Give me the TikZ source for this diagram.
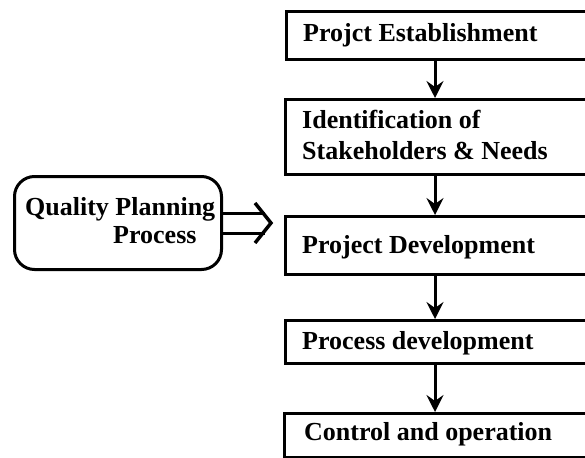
\documentclass[tikz,border=0pt]{standalone}
\usepackage{fontspec}
\setmainfont{Liberation Serif}
\usetikzlibrary{arrows.meta}
\begin{document}
\begin{tikzpicture}[x=1pt,y=-1pt,
  stepbox/.style={draw, line width=3pt, anchor=north west, inner sep=0pt, minimum width=340pt},
  txt/.style={anchor=base west, inner sep=0pt, font=\fontsize{26}{31}\selectfont\bfseries},
  arr/.style={line width=3pt, -{Stealth[length=17pt,width=17pt,inset=6pt]}},
  dl/.style={line width=3pt}]
\useasboundingbox (0,0) rectangle (585,457);
\clip (0,0) rectangle (585,457);
% left rounded box
\node[draw, line width=3pt, rounded corners=20pt, anchor=north west, inner sep=0pt,
      minimum width=207pt, minimum height=93pt] (qp) at (13,175) {};
\node[txt] (q1) at (25,215) {Quality Planning};
\node[txt] (q2) at (113,243) {Process};
% double arrow
\draw[dl] ([yshift=10pt]qp.east) -- ++(42,0);
\draw[dl] ([yshift=-10pt]qp.east) -- ++(42,0);
\draw[line width=3.5pt, line join=miter] ([shift={(32,-20)}]qp.east) -- ([shift={(48,0)}]qp.east) -- ([shift={(32,20)}]qp.east);
% right boxes
\node[stepbox, minimum height=48pt] (b1) at (285,10) {};
\node[stepbox, minimum height=75pt] (b2) at (284,98) {};
\node[stepbox, minimum height=58pt] (b3) at (284,215) {};
\node[stepbox, minimum height=43pt] (b4) at (284,319) {};
\node[stepbox, minimum height=44pt] (b5) at (283,412) {};
\node[txt] (t1) at (303,42) {Projct Establishment};
\node[txt] (t2a) at (302,129) {Identification of};
\node[txt] (t2b) at (302,159) {Stakeholders \& Needs};
\node[txt] (t3) at (302,253) {Project Development};
\node[txt] (t4) at (302,349) {Process development};
\node[txt] (t5) at (304,440) {Control and operation};
% arrows
\coordinate (ax) at (435,0);
\draw[arr] (b1.south -| ax) -- (b2.north -| ax);
\draw[arr] (b2.south -| ax) -- (b3.north -| ax);
\draw[arr] (b3.south -| ax) -- (b4.north -| ax);
\draw[arr] (b4.south -| ax) -- (b5.north -| ax);
\end{tikzpicture}
\end{document}
